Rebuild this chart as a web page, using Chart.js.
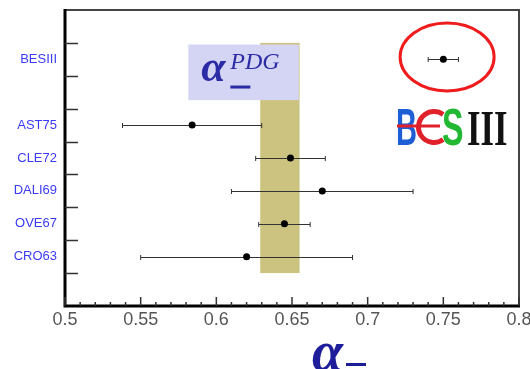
<!DOCTYPE html>
<html>
<head>
<meta charset="utf-8">
<script src="https://cdn.jsdelivr.net/npm/chart.js@4.4.1/dist/chart.umd.min.js"></script>
<style>
  html, body { margin: 0; padding: 0; background: #fff; }
  #wrap { width: 530px; height: 369px; }
</style>
</head>
<body>
<div id="wrap"><canvas id="alphaChart" width="530" height="369"></canvas></div>
<script>
// measurements of alpha_minus, bottom row first
const experiments = ['CRO63', 'OVE67', 'DALI69', 'CLE72', 'AST75', 'BESIII'];
const rowPositions = [1.5, 2.5, 3.5, 4.5, 5.5, 7.5];
const alphaValues = [0.62, 0.645, 0.67, 0.649, 0.584, 0.75];
const alphaErrors = [0.07, 0.017, 0.06, 0.023, 0.046, 0.01];

// PDG average band
const pdgValue = 0.642;
const pdgError = 0.013;

const xMajorTicks = [0.5, 0.55, 0.6, 0.65, 0.7, 0.75, 0.8];
const yRowTicks = [1, 2, 3, 4, 5, 6, 7, 8];

const overlay = {
    id: 'overlay',
    beforeDatasetsDraw(chart) {
        const { ctx, scales: { x, y } } = chart;
        ctx.save();
        // PDG band
        const bx0 = x.getPixelForValue(pdgValue - pdgError);
        const bx1 = x.getPixelForValue(pdgValue + pdgError);
        const by0 = y.getPixelForValue(8);
        const by1 = y.getPixelForValue(1);
        ctx.fillStyle = '#cbc37f';
        ctx.fillRect(bx0, by0, bx1 - bx0, by1 - by0);

        // error bars
        ctx.strokeStyle = '#333';
        ctx.lineWidth = 1;
        for (let i = 0; i < experiments.length; i++) {
            const py = Math.round(y.getPixelForValue(rowPositions[i])) + 0.5;
            const lx = x.getPixelForValue(alphaValues[i] - alphaErrors[i]);
            const rx = x.getPixelForValue(alphaValues[i] + alphaErrors[i]);
            ctx.beginPath();
            ctx.moveTo(lx, py); ctx.lineTo(rx, py);
            ctx.moveTo(lx, py - 2.5); ctx.lineTo(lx, py + 2.5);
            ctx.moveTo(rx, py - 2.5); ctx.lineTo(rx, py + 2.5);
            ctx.stroke();
        }
        ctx.restore();
    },
    afterDatasetsDraw(chart) {
        const { ctx, chartArea: a, scales: { x, y } } = chart;
        ctx.save();

        // PDG label box
        const lx0 = x.getPixelForValue(0.5815), lx1 = x.getPixelForValue(0.6545);
        const ly0 = y.getPixelForValue(7.95), ly1 = y.getPixelForValue(6.26);
        ctx.fillStyle = '#d4d4f4';
        ctx.fillRect(lx0, ly0, lx1 - lx0, ly1 - ly0);
        ctx.fillStyle = '#2b2ba6';
        ctx.font = 'bold italic 44px "Liberation Serif"';
        ctx.textBaseline = 'alphabetic';
        ctx.fillText('α', lx0 + 13, ly0 + 36);
        ctx.font = 'italic 24px "Liberation Serif"';
        ctx.fillText('PDG', lx0 + 42, ly0 + 24);
        ctx.fillRect(lx0 + 42, ly0 + 41, 20, 3);

        // red ellipse around BESIII
        ctx.strokeStyle = '#ee1c1c';
        ctx.lineWidth = 3;
        ctx.beginPath();
        ctx.ellipse(x.getPixelForValue(0.7525), y.getPixelForValue(7.57), 47, 34, 0, 0, Math.PI * 2);
        ctx.stroke();

        // BESIII logo
        const base = 145;
        ctx.save();
        ctx.translate(396, base);
        ctx.scale(0.56, 1);
        ctx.font = 'bold 52px "Liberation Sans"';
        ctx.fillStyle = '#1f5fd6';
        ctx.fillText('B', 0, 0);
        ctx.restore();
        ctx.strokeStyle = '#e0202a';
        ctx.lineWidth = 5;
        ctx.beginPath();
        ctx.arc(434, 127, 15.5, 0.3 * Math.PI, 1.7 * Math.PI);
        ctx.stroke();
        ctx.lineWidth = 3;
        ctx.beginPath();
        ctx.moveTo(397, 126); ctx.lineTo(440, 126);
        ctx.stroke();
        ctx.save();
        ctx.translate(442, base);
        ctx.scale(0.62, 1);
        ctx.font = 'bold 52px "Liberation Sans"';
        ctx.fillStyle = '#23b833';
        ctx.fillText('S', 0, 0);
        ctx.restore();
        ctx.save();
        ctx.translate(467, base);
        ctx.scale(0.68, 1);
        ctx.font = 'bold 51px "Liberation Serif"';
        ctx.fillStyle = '#111';
        ctx.fillText('III', 0, 0);
        ctx.restore();

        // frame
        ctx.strokeStyle = '#444';
        ctx.lineWidth = 2;
        ctx.beginPath();
        ctx.moveTo(a.left, a.top); ctx.lineTo(a.right, a.top); ctx.lineTo(a.right, a.bottom);
        ctx.stroke();
        ctx.strokeStyle = '#000';
        ctx.lineWidth = 3;
        ctx.beginPath();
        ctx.moveTo(a.left, a.top - 1); ctx.lineTo(a.left, a.bottom); ctx.lineTo(a.right + 1, a.bottom);
        ctx.stroke();

        // inward ticks
        ctx.strokeStyle = '#333';
        ctx.lineWidth = 1.5;
        ctx.beginPath();
        for (let k = 50; k <= 80; k++) {
            const px = x.getPixelForValue(k / 100);
            const len = k % 5 === 0 ? 9 : 4;
            ctx.moveTo(px, a.bottom); ctx.lineTo(px, a.bottom - len);
        }
        yRowTicks.forEach(v => {
            const py = Math.round(y.getPixelForValue(v)) + 0.5;
            ctx.moveTo(a.left, py); ctx.lineTo(a.left + 13, py);
        });
        ctx.stroke();
        ctx.restore();
    },
    afterDraw(chart) {
        const { ctx } = chart;
        ctx.save();
        ctx.fillStyle = '#1e1e9a';
        ctx.font = 'bold italic 56px "Liberation Serif"';
        ctx.textBaseline = 'alphabetic';
        ctx.fillText('α', 312, 370);
        ctx.fillRect(346, 363, 20, 3);
        ctx.restore();
    }
};

const ctx = document.getElementById('alphaChart').getContext('2d');
new Chart(ctx, {
    type: 'scatter',
    data: {
        datasets: [{
            label: 'alpha_minus',
            data: alphaValues.map((v, i) => ({ x: v, y: rowPositions[i] })),
            pointRadius: 3.5,
            pointHoverRadius: 3.5,
            backgroundColor: '#000',
            borderWidth: 0
        }]
    },
    options: {
        responsive: false,
        animation: false,
        layout: { padding: { left: 0, right: 11, top: 10, bottom: 0 } },
        plugins: { legend: { display: false }, tooltip: { enabled: false } },
        scales: {
            x: {
                type: 'linear',
                min: 0.5,
                max: 0.8,
                grid: { display: false, drawTicks: false },
                border: { display: false },
                afterBuildTicks: scale => {
                    scale.ticks = xMajorTicks.map(v => ({ value: v }));
                },
                afterFit: scale => {
                    scale.height = 63;
                    scale.paddingLeft = 0;
                    scale.paddingRight = 0;
                },
                ticks: {
                    autoSkip: false,
                    maxRotation: 0,
                    padding: 3,
                    color: '#555',
                    font: { family: 'Liberation Sans', size: 18 },
                    callback: v => String(Math.round(v * 100) / 100)
                }
            },
            y: {
                type: 'linear',
                min: 0,
                max: 9,
                grid: { display: false, drawTicks: false },
                border: { display: false },
                afterBuildTicks: scale => {
                    scale.ticks = rowPositions.map(v => ({ value: v }));
                },
                afterFit: scale => {
                    scale.width = 65;
                    scale.paddingTop = 0;
                    scale.paddingBottom = 0;
                },
                ticks: {
                    autoSkip: false,
                    padding: 8,
                    color: '#3b3bf5',
                    font: { family: 'Liberation Sans', size: 13 },
                    callback: v => experiments[rowPositions.indexOf(v)]
                }
            }
        }
    },
    plugins: [overlay]
});
</script>
</body>
</html>
